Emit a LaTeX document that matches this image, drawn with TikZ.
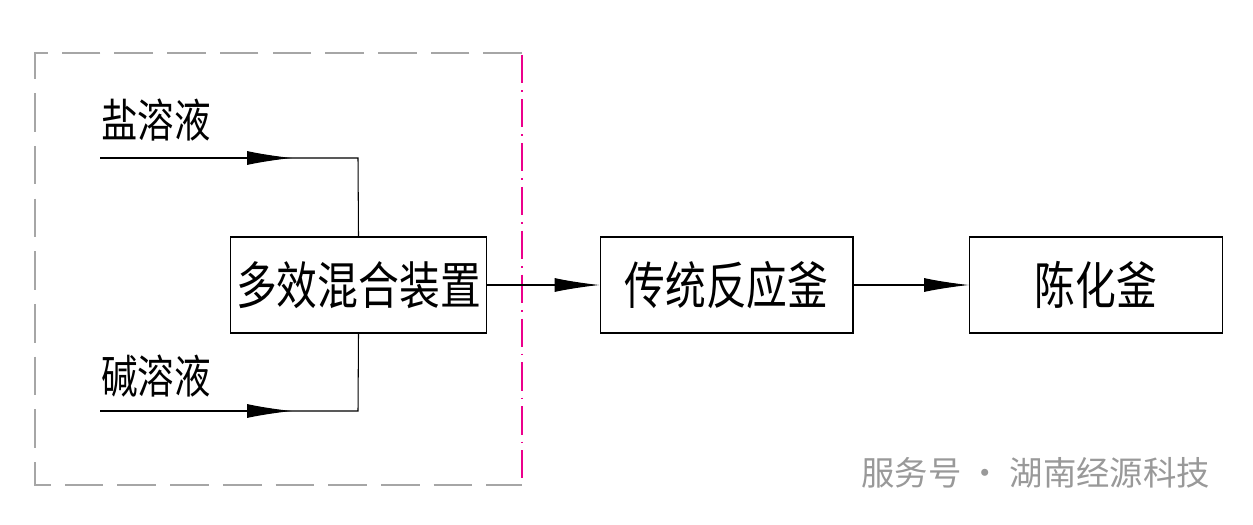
\documentclass[tikz,border=0pt]{standalone}
\usepackage{fontspec}
\newfontfamily\cjk{Noto Sans CJK SC}
\usetikzlibrary{arrows.meta}

\begin{document}
\begin{tikzpicture}[x=0.02cm,y=-0.02cm,line width=0.6pt,
    box/.style={draw,minimum width=5.06cm,minimum height=1.92cm,
      font=\cjk\fontsize{29}{29}\selectfont},
    lbl/.style={font=\cjk\fontsize{26}{26}\selectfont,inner sep=0pt},
    flow/.style={-{Latex[length=0.9cm,width=0.28cm]}}]
    \useasboundingbox (0,0) rectangle (1253,524);

    % dashed boundary
    \draw[gray!70,dash pattern=on 22pt off 8pt] (522,53) -- (35,53) -- (35,485) -- (522,485);
    \draw[magenta,dash pattern=on 16pt off 4pt on 1pt off 4pt] (522,55) -- (522,485);

    \node[box] (mix) at (358.5,285) {\scalebox{0.8}[1]{多效混合装置}};
    \node[box] (rea) at (726.5,285) {\scalebox{0.8}[1]{传统反应釜}};
    \node[box] (age) at (1096,285) {\scalebox{0.8}[1]{陈化釜}};

    \node[lbl] (salt) at (156,120) {\scalebox{0.8}[1]{盐溶液}};
    \node[lbl] (base) at (156,376) {\scalebox{0.8}[1]{碱溶液}};

    \coordinate (s0) at (100,158);
    \coordinate (s1) at (292,158);
    \coordinate (s2) at (358,158);
    \coordinate (b0) at (100,411);
    \coordinate (b1) at (292,411);
    \coordinate (b2) at (358,411);

    \draw[flow] (s0) -- (s1);
    \draw (s0) -- (s2) -- (mix.north);
    \draw[flow] (b0) -- (b1);
    \draw (b0) -- (b2) -- (mix.south);

    \draw[flow] (mix) -- (rea);
    \draw[flow] (rea) -- (age);

    \node[gray!80,font=\cjk\fontsize{19}{19}\selectfont,anchor=west] (wm) at (855,473) {服务号 · 湖南经源科技};
\end{tikzpicture}
\end{document}
